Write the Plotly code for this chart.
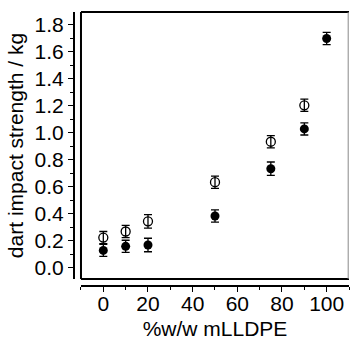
import plotly.graph_objects as go

x_open = [0, 10, 20, 50, 75, 90]
y_open = [0.225, 0.27, 0.345, 0.635, 0.935, 1.205]
e_open = [0.045, 0.045, 0.05, 0.045, 0.045, 0.045]

x_fill = [0, 10, 20, 50, 75, 90, 100]
y_fill = [0.13, 0.16, 0.17, 0.385, 0.735, 1.03, 1.70]
e_fill = [0.045, 0.045, 0.05, 0.045, 0.05, 0.045, 0.045]

fig = go.Figure()
fig.add_trace(go.Scatter(
    x=x_open, y=y_open, mode="markers",
    marker=dict(symbol="circle-open", size=9, color="black", line=dict(width=1.3)),
    error_y=dict(type="data", array=e_open, color="black", thickness=1.3, width=4),
    showlegend=False))
fig.add_trace(go.Scatter(
    x=x_fill, y=y_fill, mode="markers",
    marker=dict(symbol="circle", size=9, color="black"),
    error_y=dict(type="data", array=e_fill, color="black", thickness=1.3, width=4),
    showlegend=False))

font = dict(family="Liberation Sans, Arial", size=21, color="black")

fig.update_layout(
    width=350, height=340,
    margin=dict(l=74, r=1, t=12, b=54),
    plot_bgcolor="white", paper_bgcolor="white",
    font=font,
    xaxis=dict(
        domain=[0.0254, 1], range=[-10, 110], anchor="free", position=0,
        automargin=False, ticklabelstandoff=-6,
        tickvals=[0, 20, 40, 60, 80, 100], ticks="outside", ticklen=5, tickwidth=1.3,
        tickcolor="black", showline=True, linecolor="black", linewidth=2,
        showgrid=False, zeroline=False,
        minor=dict(ticks="outside", ticklen=3, tickwidth=1.3, tickcolor="black", dtick=10, showgrid=False),
        title=dict(text="%w/w mLLDPE", font=font, standoff=19),
    ),
    yaxis=dict(
        domain=[0.0255, 1], range=[-0.082, 1.896], anchor="free", position=0,
        automargin=False,
        tickvals=[0, 0.2, 0.4, 0.6, 0.8, 1.0, 1.2, 1.4, 1.6, 1.8], tickformat=".1f",
        ticks="outside", ticklen=5, tickwidth=1.3, tickcolor="black",
        showline=True, linecolor="black", linewidth=2,
        showgrid=False, zeroline=False,
        minor=dict(ticks="outside", ticklen=3, tickwidth=1.3, tickcolor="black", dtick=0.1, showgrid=False),
        title=dict(text="dart impact strength / kg", font=font, standoff=4),
    ),
    shapes=[
        dict(type="line", xref="x domain", yref="y domain", x0=0, x1=1, y0=1, y1=1, line=dict(color="black", width=2)),
        dict(type="line", xref="x domain", yref="y domain", x0=0, x1=1, y0=0, y1=0, line=dict(color="black", width=2)),
        dict(type="line", xref="x domain", yref="y domain", x0=0, x1=0, y0=0, y1=1, line=dict(color="black", width=2)),
        dict(type="line", xref="x domain", yref="y domain", x0=0.997, x1=0.997, y0=0, y1=1, line=dict(color="#888", width=1)),
    ],
)

fig.write_html("out.html")
